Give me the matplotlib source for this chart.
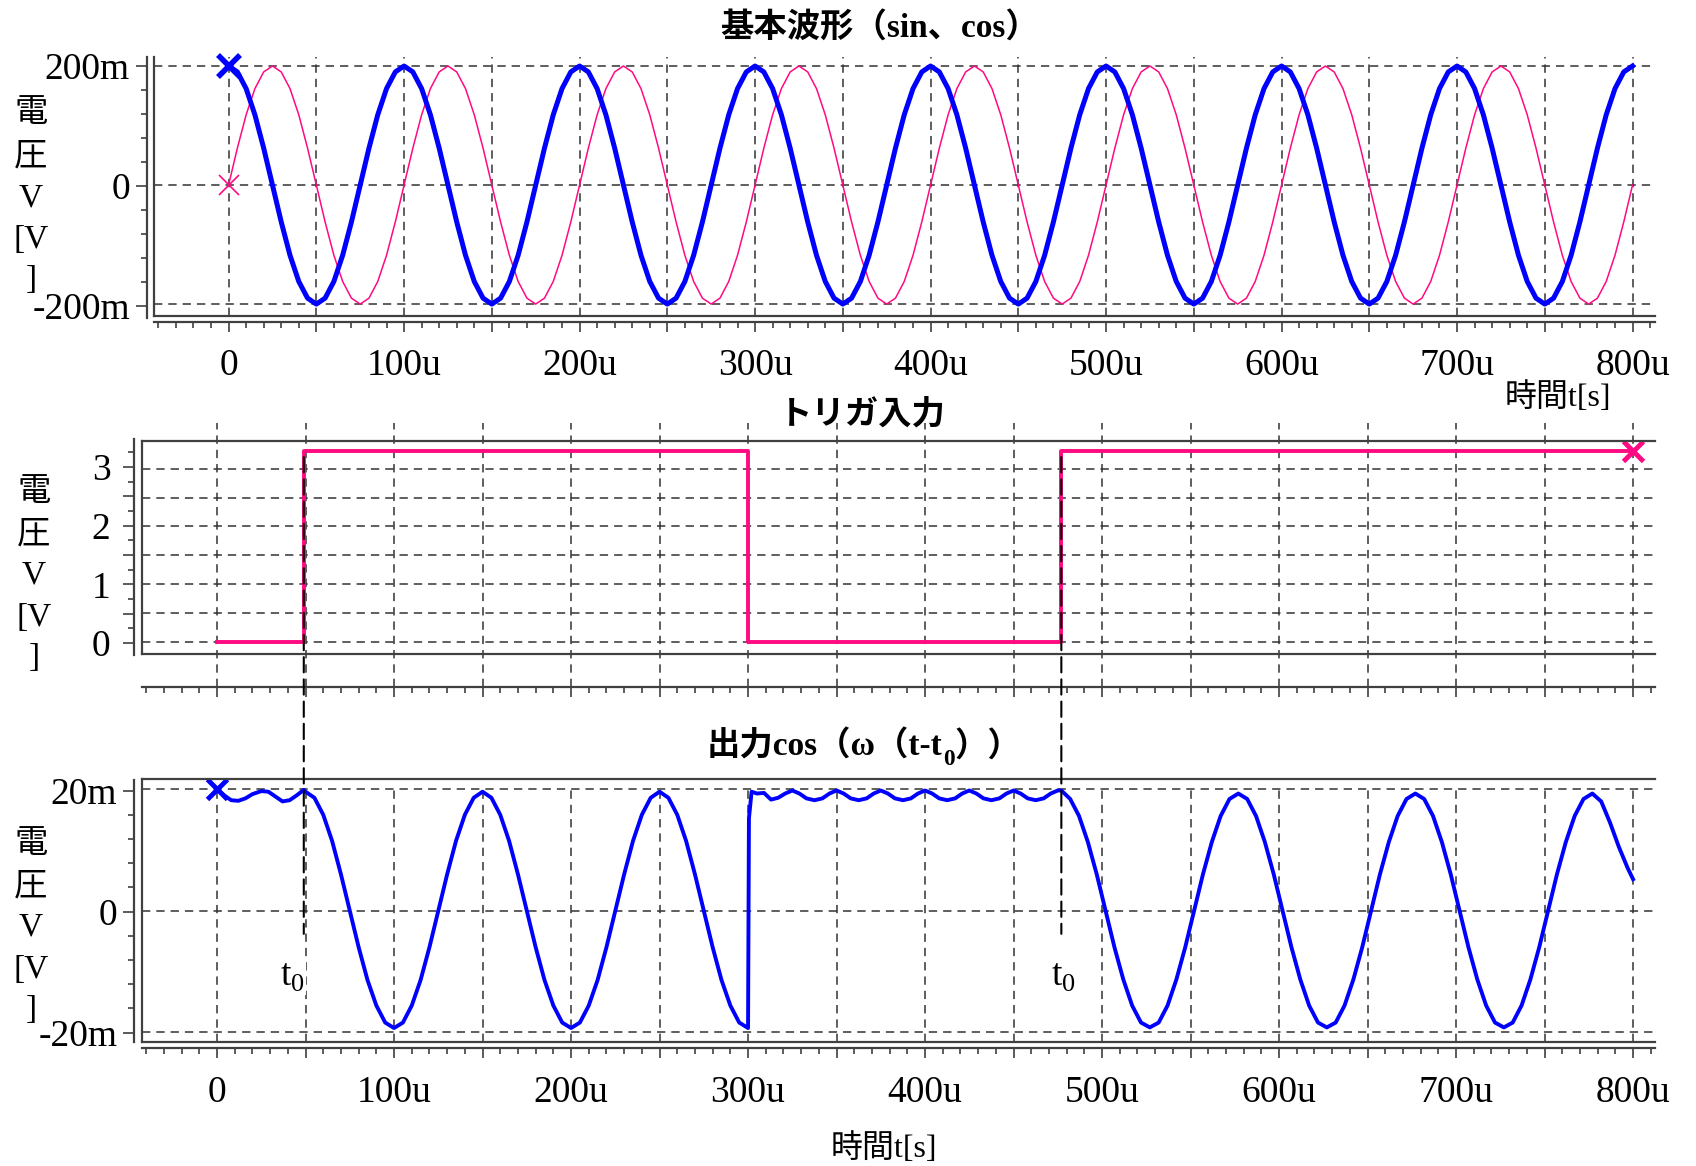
import matplotlib
matplotlib.use("Agg")
import matplotlib.pyplot as plt
from matplotlib.ticker import MultipleLocator, FuncFormatter, NullFormatter
from matplotlib.patches import ConnectionPatch

plt.rcParams['font.family'] = ['Liberation Serif', 'Noto Sans CJK JP']
plt.rcParams['mathtext.fontset'] = 'custom'
plt.rcParams['mathtext.rm'] = 'Liberation Serif'
plt.rcParams['mathtext.bf'] = 'Liberation Serif:bold'
plt.rcParams['lines.scale_dashes'] = False

# ---- データ (時間 [us], 電圧 [mV] / [V]) ----
# 基本波形: 5us ごとに読み取った値
t_top = list(range(0, 805, 5))
cos_top = [200, 190, 162, 118, 62, 0, -62, -118, -162, -190, -200, -190, -162, -118, -62, 0, 62, 118, 162, 190,
           200, 190, 162, 118, 62, 0, -62, -118, -162, -190, -200, -190, -162, -118, -62, 0, 62, 118, 162, 190,
           200, 190, 162, 118, 62, 0, -62, -118, -162, -190, -200, -190, -162, -118, -62, 0, 62, 118, 162, 190,
           200, 190, 162, 118, 62, 0, -62, -118, -162, -190, -200, -190, -162, -118, -62, 0, 62, 118, 162, 190,
           200, 190, 162, 118, 62, 0, -62, -118, -162, -190, -200, -190, -162, -118, -62, 0, 62, 118, 162, 190,
           200, 190, 162, 118, 62, 0, -62, -118, -162, -190, -200, -190, -162, -118, -62, 0, 62, 118, 162, 190,
           200, 190, 162, 118, 62, 0, -62, -118, -162, -190, -200, -190, -162, -118, -62, 0, 62, 118, 162, 190,
           200, 190, 162, 118, 62, 0, -62, -118, -162, -190, -200, -190, -162, -118, -62, 0, 62, 118, 162, 190,
           200]
sin_top = [0, 62, 118, 162, 190, 200, 190, 162, 118, 62, 0, -62, -118, -162, -190, -200, -190, -162, -118, -62,
           0, 62, 118, 162, 190, 200, 190, 162, 118, 62, 0, -62, -118, -162, -190, -200, -190, -162, -118, -62,
           0, 62, 118, 162, 190, 200, 190, 162, 118, 62, 0, -62, -118, -162, -190, -200, -190, -162, -118, -62,
           0, 62, 118, 162, 190, 200, 190, 162, 118, 62, 0, -62, -118, -162, -190, -200, -190, -162, -118, -62,
           0, 62, 118, 162, 190, 200, 190, 162, 118, 62, 0, -62, -118, -162, -190, -200, -190, -162, -118, -62,
           0, 62, 118, 162, 190, 200, 190, 162, 118, 62, 0, -62, -118, -162, -190, -200, -190, -162, -118, -62,
           0, 62, 118, 162, 190, 200, 190, 162, 118, 62, 0, -62, -118, -162, -190, -200, -190, -162, -118, -62,
           0, 62, 118, 162, 190, 200, 190, 162, 118, 62, 0, -62, -118, -162, -190, -200, -190, -162, -118, -62,
           0]

# トリガ入力
trig_t = [0, 49, 49, 300, 300, 477, 477, 800]
trig_v = [0, 0, 3.3, 3.3, 0, 0, 3.3, 3.3]
t0_list = [49, 477]

# 出力 (ホールド区間 / cos 区間)
hold1_t = [0, 4, 8, 12, 16, 20, 25, 29, 33, 37, 41, 45, 49]
hold1_v = [20.0, 19.0, 18.2, 18.1, 18.5, 19.2, 19.7, 19.6, 18.8, 18.0, 18.2, 19.0, 19.9]
cos1_t = list(range(50, 305, 5))
cos1_v = [19.6, 18.6, 15.8, 11.5, 6.0, 0.0, -6.0, -11.4, -15.6, -18.4,
          -19.3, -18.4, -15.6, -11.4, -6.0, 0.0, 6.0, 11.5, 15.8, 18.6,
          19.6, 18.6, 15.8, 11.5, 6.0, 0.0, -6.0, -11.4, -15.6, -18.4,
          -19.3, -18.4, -15.6, -11.4, -6.0, 0.0, 6.0, 11.5, 15.8, 18.6,
          19.6, 18.6, 15.8, 11.5, 6.0, 0.0, -6.0, -11.4, -15.6, -18.4,
          -19.3]
hold2_t = [300.5, 302, 305, 309, 313, 317, 321,
           325, 329, 333, 337.5, 342, 346,
           350, 354, 358, 362.5, 367, 371,
           375, 379, 383, 387.5, 392, 396,
           400, 404, 408, 412.5, 417, 421,
           425, 429, 433, 437.5, 442, 446,
           450, 454, 458, 462.5, 467, 471,
           475]
hold2_v = [15.2, 19.6, 19.3, 19.4, 18.3, 18.6, 19.3,
           19.8, 19.3, 18.5, 18.2, 18.5, 19.3,
           19.8, 19.3, 18.5, 18.2, 18.5, 19.3,
           19.8, 19.3, 18.5, 18.2, 18.5, 19.3,
           19.8, 19.3, 18.5, 18.2, 18.5, 19.3,
           19.8, 19.3, 18.5, 18.2, 18.5, 19.3,
           19.8, 19.3, 18.5, 18.2, 18.5, 19.3,
           19.8]
cos2_t = list(range(477, 800, 5)) + [800]
cos2_v = [19.8, 18.4, 15.6, 11.3, 6.0, 0.0, -6.0, -11.3, -15.6, -18.4,
          -19.2, -18.4, -15.6, -11.3, -6.0, 0.0, 6.0, 11.3, 15.6, 18.4,
          19.3, 18.4, 15.6, 11.3, 6.0, 0.0, -6.0, -11.3, -15.6, -18.4,
          -19.2, -18.4, -15.6, -11.3, -6.0, 0.0, 6.0, 11.3, 15.6, 18.4,
          19.3, 18.4, 15.6, 11.3, 6.0, 0.0, -6.0, -11.3, -15.6, -18.4,
          -19.2, -18.4, -15.6, -11.3, -6.0, 0.0, 6.0, 11.3, 15.6, 18.4,
          19.3, 18.0, 14.5, 10.5, 7.0, 5.2]
out_t = hold1_t + cos1_t + hold2_t + cos2_t
out_v = hold1_v + cos1_v + hold2_v + cos2_v

BLUE = '#0000FF'
PINK = '#FF0A82'
GRID = '#333333'
FRAME = '#404040'
DASH = (0, (6, 4.3))
TICK_FS = 27
TITLE_FS = 24

W, H = 1696, 1166
fig = plt.figure(figsize=(W / 100, H / 100), dpi=100)
renderer = fig.canvas.get_renderer()


def box(l, t, r, b):
    return fig.add_axes([l / W, 1 - b / H, (r - l) / W, (b - t) / H])


def fmt_us(v, pos):
    v = round(v)
    if v % 100 != 0:
        return ''
    return '0' if v == 0 else f'{v}u'


def main_axes(l, t, r, b, xlim, ylim, top_line):
    ax = box(l, t, r, b)
    ax.set_xlim(xlim)
    ax.set_ylim(ylim)
    ax.set_xticks([])
    ax.set_yticks([])
    ax.spines['right'].set_visible(False)
    ax.spines['top'].set_visible(top_line)
    for s in ['left', 'bottom', 'top']:
        ax.spines[s].set_color(FRAME)
        ax.spines[s].set_linewidth(1.6)
    return ax


def ruler_x(l, r, y, xlim, labels, pad):
    rx = box(l, y - 1, r, y)
    rx.set_xlim(xlim)
    rx.patch.set_alpha(0)
    for s in ['top', 'right', 'left']:
        rx.spines[s].set_visible(False)
    rx.spines['bottom'].set_color(FRAME)
    rx.spines['bottom'].set_linewidth(1.6)
    rx.set_yticks([])
    rx.xaxis.set_major_locator(MultipleLocator(50))
    rx.xaxis.set_minor_locator(MultipleLocator(10))
    rx.xaxis.set_major_formatter(FuncFormatter(fmt_us) if labels else NullFormatter())
    rx.tick_params(axis='x', which='major', length=7.2, width=1.2, color=FRAME,
                   labelsize=TICK_FS, pad=pad)
    rx.tick_params(axis='x', which='minor', length=4.3, width=1.2, color=FRAME)
    return rx


def ruler_y(x, t, b, ylim, major, minor, fmt, pad):
    ry = box(x, t, x + 1, b)
    ry.set_ylim(ylim)
    ry.patch.set_alpha(0)
    for s in ['top', 'right', 'bottom']:
        ry.spines[s].set_visible(False)
    ry.spines['left'].set_color(FRAME)
    ry.spines['left'].set_linewidth(1.6)
    ry.set_xticks([])
    ry.yaxis.set_major_locator(MultipleLocator(major))
    ry.yaxis.set_minor_locator(MultipleLocator(minor))
    ry.yaxis.set_major_formatter(FuncFormatter(fmt))
    ry.tick_params(axis='y', which='major', length=8, width=1.2, color=FRAME,
                   labelsize=TICK_FS, pad=pad)
    ry.tick_params(axis='y', which='minor', length=4, width=1.2, color=FRAME)
    return ry


def ylabel(x, ys):
    for s, y in zip(['電', '圧', 'V', '[V', ']'], ys):
        fig.text(x / W, 1 - y / H, s, ha='center', va='center', fontsize=24)


def sub_text(xc, yb, pre, sub, post, fs, weight='normal', drop=10):
    # 添字付きの文字列を三つの部品に分けて並べる
    parts = [fig.text(0, 1 - yb / H, pre, fontsize=fs, fontweight=weight, va='baseline'),
             fig.text(0, 1 - (yb + drop) / H, sub, fontsize=fs * 0.7, fontweight=weight,
                      va='baseline'),
             fig.text(0, 1 - yb / H, post, fontsize=fs, fontweight=weight, va='baseline')]
    widths = [p.get_window_extent(renderer).width for p in parts]
    x = xc - sum(widths) / 2
    for p, w in zip(parts, widths):
        p.set_x(x / W)
        x += w


grid_x = list(range(0, 801, 50))

# ---- 基本波形 ----
xlim_top = (-42.5, 812.8)
ylim_top = (-220, 215.6)
ax1 = main_axes(154, 56.7, 1655, 316, xlim_top, ylim_top, False)
ax1.vlines(grid_x, ylim_top[0], ylim_top[1], colors=GRID, linestyles=DASH, lw=1.1)
ax1.hlines([-200, 0, 200], xlim_top[0], xlim_top[1], colors=GRID, linestyles=DASH, lw=1.1)
ax1.plot(t_top, sin_top, color=PINK, lw=1.1)
ax1.plot(t_top, cos_top, color=BLUE, lw=3.6)
ax1.plot(0, 0, 'x', color=PINK, ms=15, mew=1.2, clip_on=False)
ax1.plot(0, 200, 'x', color=BLUE, ms=16, mew=4, clip_on=False)
ruler_x(154, 1655, 322, xlim_top, True, 12)
ruler_y(146.6, 56.7, 318, ylim_top, 200, 40,
        lambda v, p: '0' if round(v) == 0 else f'{round(v)}m', 4)
ylabel(31, [114, 157, 198, 240, 280])
fig.text(880 / W, 1 - 28 / H, '基本波形（sin、cos）', ha='center', va='center',
         fontsize=TITLE_FS, fontweight='bold')
fig.text(1558 / W, 1 - 398 / H, '時間t[s]', ha='center', va='center', fontsize=23)

# ---- トリガ入力 ----
xlim_mid = (-42.4, 812.4)
ylim_mid = (-0.2025, 3.479)
ax2 = main_axes(142, 441, 1655, 653.7, xlim_mid, ylim_mid, True)
ax2.vlines(grid_x, -0.779, 3.79, colors=GRID, linestyles=DASH, lw=1.1, clip_on=False)
ax2.hlines([0, 0.5, 1, 1.5, 2, 2.5, 3], xlim_mid[0], xlim_mid[1], colors=GRID,
           linestyles=DASH, lw=1.1)
ax2.plot(trig_t, trig_v, color=PINK, lw=2.8)
ax2.plot(800, 3.3, 'x', color=PINK, ms=15, mew=3.5, clip_on=False)
ruler_x(142, 1655, 687, xlim_mid, False, 7)
ruler_y(134, 439, 655, ylim_mid, 0.5, 0.25,
        lambda v, p: f'{v:.0f}' if abs(v - round(v)) < 1e-6 else '', 9)
ylabel(34, [493, 535, 575, 618, 658])
fig.text(862 / W, 1 - 415 / H, 'トリガ入力', ha='center', va='center',
         fontsize=TITLE_FS, fontweight='bold')

# ---- 出力 ----
xlim_bot = (-42.4, 812.4)
ylim_bot = (-21.55, 21.74)
ax3 = main_axes(142, 778.7, 1655, 1041.7, xlim_bot, ylim_bot, True)
ax3.vlines(grid_x, ylim_bot[0], 20, colors=GRID, linestyles=DASH, lw=1.1)
ax3.hlines([-20, 0, 20], xlim_bot[0], xlim_bot[1], colors=GRID, linestyles=DASH, lw=1.1)
ax3.plot(out_t, out_v, color=BLUE, lw=2.8)
ax3.plot(0, 20, 'x', color=BLUE, ms=15, mew=3.5, clip_on=False)
ruler_x(142, 1655, 1048, xlim_bot, True, 12.5)
ruler_y(134, 780, 1042, ylim_bot, 20, 4,
        lambda v, p: '0' if round(v) == 0 else f'{round(v)}m', 4)
ylabel(31, [845, 887, 927, 970, 1010])
sub_text(864, 756, '出力cos（ω（t-t', '0', '））', TITLE_FS, 'bold', drop=9)
fig.text(884 / W, 1 - 1149 / H, '時間t[s]', ha='center', va='center', fontsize=23)

# t0 の破線と記号
for t0, lx in zip(t0_list, [42.4, 478.3]):
    con = ConnectionPatch(xyA=(t0, 3.2), coordsA=ax2.transData,
                          xyB=(t0, -3.8), coordsB=ax3.transData,
                          color='black', lw=1.5, linestyle=(0, (11, 5)))
    fig.add_artist(con)
    ax3.text(lx, -10.8, r'$\mathrm{t}_\mathrm{0}$', ha='center', va='center', fontsize=27,
             bbox=dict(facecolor='white', edgecolor='none', pad=1))

fig.savefig('out.png', dpi=100)
